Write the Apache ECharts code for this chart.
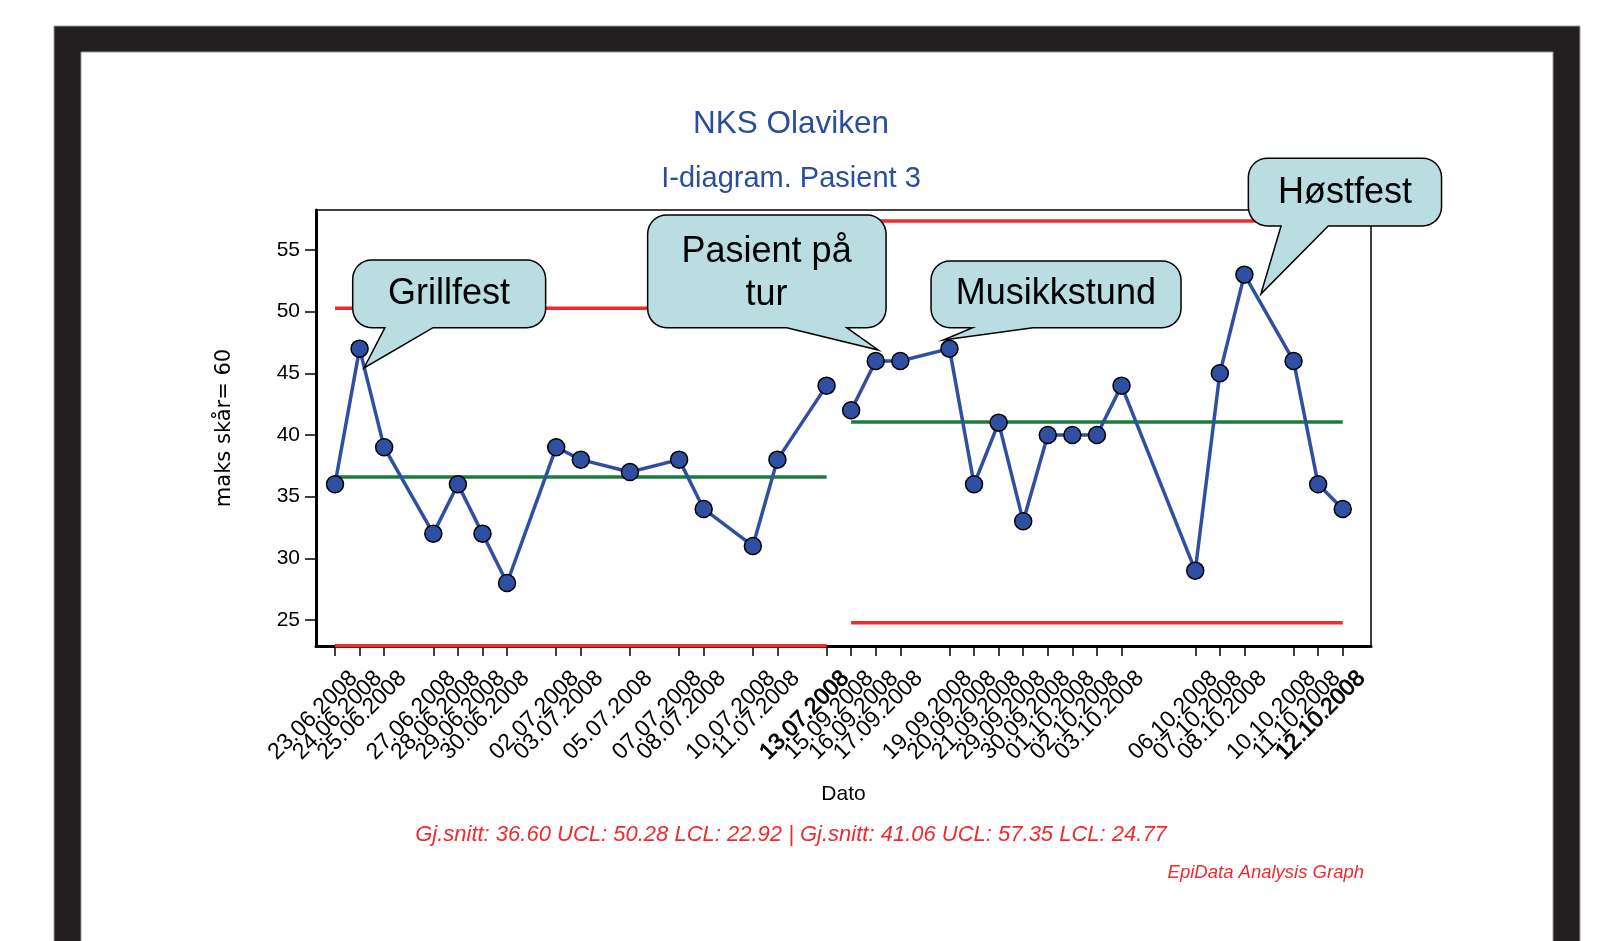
<!DOCTYPE html>
<html>
<head>
<meta charset="utf-8">
<script src="https://cdn.jsdelivr.net/npm/echarts@6/dist/echarts.min.js"></script>
<style>
html,body{margin:0;padding:0;background:#fff;}
#c{width:1617px;height:941px;}
</style>
</head>
<body>
<div id="c"></div>
<script>
// ---------- data ----------
const dates = ['23.06.2008','24.06.2008','25.06.2008','27.06.2008','28.06.2008','29.06.2008','30.06.2008',
  '02.07.2008','03.07.2008','05.07.2008','07.07.2008','08.07.2008','10.07.2008','11.07.2008','13.07.2008',
  '15.09.2008','16.09.2008','17.09.2008','19.09.2008','20.09.2008','21.09.2008','29.09.2008','30.09.2008',
  '01.10.2008','02.10.2008','03.10.2008','06.10.2008','07.10.2008','08.10.2008','10.10.2008','11.10.2008','12.10.2008'];
// position of each observation along the (compressed) date axis
const dayIndex = [0,1,2,4,5,6,7,9,10,12,14,15,17,18,20,21,22,23,25,26,27,28,29,30,31,32,35,36,37,39,40,41];
const scores = [36,47,39,32,36,32,28,39,38,37,38,34,31,38,44,
  42,46,46,47,36,41,33,40,40,40,44,29,45,53,46,36,34];
const segmentSizes = [15, 17];
const means = [36.60, 41.06];
const ucls = [50.28, 57.35];
const lcls = [22.92, 24.77];
const yTicks = [25, 30, 35, 40, 45, 50, 55];
const boldLabels = ['13.07.2008', '12.10.2008'];
const titleText = 'NKS Olaviken';
const subtitleText = 'I-diagram. Pasient 3';
const footText = 'Gj.snitt: 36.60 UCL: 50.28 LCL: 22.92 | Gj.snitt: 41.06 UCL: 57.35 LCL: 24.77';
const creditText = 'EpiData Analysis Graph';

// annotation callouts (geometry in axis units)
const callouts = [
  {text: 'Grillfest', box: [0.72, 8.57, 54.19, 48.70], tail: [2.03, 3.99], tip: [1.18, 45.43], label: [4.64, 51.40]},
  {text: 'Pasient på\ntur', box: [12.72, 22.42, 57.84, 48.70], tail: [18.38, 20.82], tip: [22.10, 46.89], label: [17.56, 53.12]},
  {text: 'Musikkstund', box: [24.25, 34.42, 54.11, 48.70], tail: [25.94, 28.40], tip: [24.75, 47.70], label: [29.33, 51.40]},
  {text: 'Høstfest', box: [37.16, 45.02, 62.44, 56.95], tail: [38.49, 40.41], tip: [37.67, 51.43], label: [41.09, 59.60]}
];

// ---------- styles ----------
const FONT = '"Liberation Sans", Arial, Helvetica, sans-serif';
const BLUE = '#2f4fa2';
const TITLE_BLUE = '#2b4d9e';
const GREEN = '#1b7a3c';
const RED = '#ee2b2e';

const chart = echarts.init(document.getElementById('c'), null, {renderer: 'canvas'});

// build segments
const segs = [];
let start = 0;
segmentSizes.forEach((n) => {
  segs.push({from: start, to: start + n - 1});
  start += n;
});

const series = [];
segs.forEach((s, k) => {
  const x0 = dayIndex[s.from], x1 = dayIndex[s.to];
  const ctrl = [
    {v: means[k], c: GREEN},
    {v: ucls[k], c: RED},
    {v: lcls[k], c: RED}
  ];
  ctrl.forEach((cl) => {
    series.push({
      type: 'line', data: [[x0, cl.v], [x1, cl.v]], showSymbol: false, symbol: 'none',
      lineStyle: {color: cl.c, width: 3.5}, clip: false, z: 3, silent: true
    });
  });
});
segs.forEach((s) => {
  const pts = [];
  for (let i = s.from; i <= s.to; i++) pts.push([dayIndex[i], scores[i]]);
  series.push({
    type: 'line', data: pts, symbol: 'circle', symbolSize: 17,
    lineStyle: {color: BLUE, width: 3.5},
    itemStyle: {color: BLUE, borderColor: '#000', borderWidth: 1.5},
    z: 5, clip: false
  });
});

const X_MIN = -0.773, X_MAX = 42.15;
// label slots: hidden placeholders at both axis ends so every date label stays visible
const labelValues = [X_MIN + 0.05].concat(dayIndex, [X_MAX - 0.05]);

function labelFor(v) {
  const idx = dayIndex.indexOf(Math.round(v));
  if (idx < 0 || Math.abs(v - dayIndex[idx]) > 0.01) return '';
  const d = dates[idx];
  return boldLabels.indexOf(d) >= 0 ? '{b|' + d + '}' : '{a|' + d + '}';
}

const option = {
  animation: false,
  backgroundColor: '#fff',
  textStyle: {fontFamily: FONT},
  grid: {left: 316, top: 210, right: 246, bottom: 295, show: true, borderColor: '#000', borderWidth: 1.5, backgroundColor: 'transparent'},
  xAxis: {
    type: 'value', min: X_MIN, max: X_MAX,
    axisLine: {show: true, onZero: false, lineStyle: {color: '#000', width: 3}},
    axisTick: {show: true, customValues: dayIndex, length: 10, lineStyle: {color: '#000', width: 1.5}},
    axisLabel: {
      customValues: labelValues, rotate: 45, margin: 10, verticalAlign: 'top',
      showMinLabel: false, showMaxLabel: false,
      fontSize: 23, color: '#000', fontFamily: FONT, formatter: labelFor,
      rich: {
        a: {fontSize: 23, color: '#000', fontFamily: FONT, padding: [15, 0, 0, 0]},
        b: {fontSize: 23, color: '#000', fontFamily: FONT, padding: [15, 0, 0, 0], textBorderColor: '#000', textBorderWidth: 0.8}
      }
    },
    splitLine: {show: false},
    name: 'Dato', nameLocation: 'middle', nameGap: 138,
    nameTextStyle: {fontSize: 21, color: '#000', fontFamily: FONT}
  },
  yAxis: {
    type: 'value', min: 22.89, max: 58.24,
    axisLine: {show: true, onZero: false, lineStyle: {color: '#000', width: 3}},
    axisTick: {show: true, customValues: yTicks, length: 11, lineStyle: {color: '#000', width: 1.5}},
    axisLabel: {customValues: yTicks, margin: 16, fontSize: 21, color: '#000', fontFamily: FONT},
    splitLine: {show: false},
    name: 'maks skår= 60', nameLocation: 'middle', nameGap: 81, nameRotate: 90,
    nameTextStyle: {fontSize: 21, color: '#000', fontFamily: '"DejaVu Sans", sans-serif'}
  },
  series: series,
  graphic: [
    {id: 'frameOuter', type: 'rect', z: -100, silent: true, shape: {x: 54, y: 26, width: 1526, height: 960}, style: {fill: '#231f20', stroke: '#9a9a9a', lineWidth: 1}},
    {id: 'frameInner', type: 'rect', z: -99, silent: true, shape: {x: 81, y: 52, width: 1472, height: 960}, style: {fill: '#ffffff', stroke: '#9a9a9a', lineWidth: 1}},
    {id: 'title', type: 'text', z: 10, style: {text: titleText, x: 791, y: 124, align: 'center', verticalAlign: 'middle', fontSize: 31.5, fontFamily: FONT, fill: TITLE_BLUE}},
    {id: 'subtitle', type: 'text', z: 10, style: {text: subtitleText, x: 791, y: 179, align: 'center', verticalAlign: 'middle', fontSize: 29, fontFamily: FONT, fill: TITLE_BLUE}},
    {id: 'foot', type: 'text', z: 10, style: {text: footText, x: 791, y: 835, align: 'center', verticalAlign: 'middle', fontSize: 22, fontStyle: 'italic', fontFamily: FONT, fill: RED}},
    {id: 'credit', type: 'text', z: 10, style: {text: creditText, x: 1364, y: 873, align: 'right', verticalAlign: 'middle', fontSize: 18.5, fontStyle: 'italic', fontFamily: FONT, fill: RED}}
  ]
};
chart.setOption(option);

// callouts positioned through the chart's own scales
function px(x, y) { return chart.convertToPixel({gridIndex: 0}, [x, y]); }
function arc(cx, cy, r, a0, a1, out) {
  const n = 8;
  for (let k = 0; k <= n; k++) {
    const a = (a0 + (a1 - a0) * k / n) * Math.PI / 180;
    out.push([cx + r * Math.cos(a), cy + r * Math.sin(a)]);
  }
}
const extra = [];
callouts.forEach((c, i) => {
  const tl = px(c.box[0], c.box[2]);
  const br = px(c.box[1], c.box[3]);
  const t1 = px(c.tail[0], c.box[3])[0];
  const t2 = px(c.tail[1], c.box[3])[0];
  const tip = px(c.tip[0], c.tip[1]);
  const lb = px(c.label[0], c.label[1]);
  const x0 = tl[0], y0 = tl[1], x1 = br[0], y1 = br[1];
  const r = 19;
  const pts = [];
  arc(x1 - r, y0 + r, r, -90, 0, pts);
  arc(x1 - r, y1 - r, r, 0, 90, pts);
  pts.push([t2, y1], [tip[0], tip[1]], [t1, y1]);
  arc(x0 + r, y1 - r, r, 90, 180, pts);
  arc(x0 + r, y0 + r, r, 180, 270, pts);
  extra.push({id: 'co' + i, type: 'polygon', z: 100, silent: true, shape: {points: pts},
    style: {fill: '#b9dde1', stroke: '#000', lineWidth: 1.5}});
  extra.push({id: 'ct' + i, type: 'text', z: 101, silent: true,
    style: {text: c.text, x: lb[0], y: lb[1], align: 'center', verticalAlign: 'middle',
      fontSize: 36, lineHeight: 43, fontFamily: FONT, fill: '#000'}});
});
chart.setOption({graphic: extra});
</script>
</body>
</html>
